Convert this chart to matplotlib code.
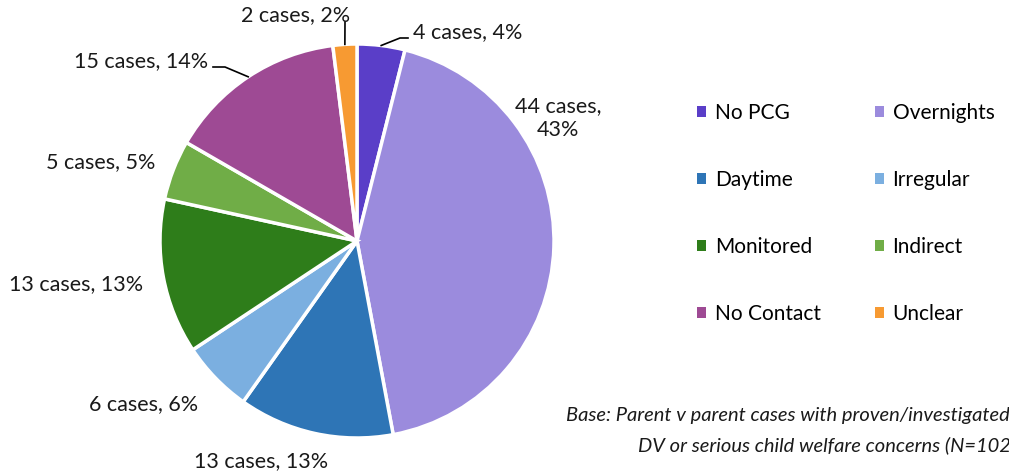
import matplotlib
matplotlib.use("Agg")
import numpy as np
import matplotlib.pyplot as plt
from matplotlib.patches import Patch

plt.rcParams['font.family'] = ['Lato', 'DejaVu Sans']

categories = ["No PCG", "Overnights", "Daytime", "Irregular",
              "Monitored", "Indirect", "No Contact", "Unclear"]
cases = [4, 44, 13, 6, 13, 5, 15, 2]
percents = [4, 43, 13, 6, 13, 5, 14, 2]
colors = ["#5A3EC8", "#9B8BDD", "#2E75B6", "#7BAFE0",
          "#2E7D1A", "#70AD47", "#9E4A94", "#F79A32"]

W, H = 1009, 475
fig = plt.figure(figsize=(W / 100, H / 100), dpi=100)

# pie axes, centre (357, 241) px, radius 197 px
cx, cy, r = 357, 241, 197
ax = fig.add_axes([(cx - r) / W, (H - cy - r) / H, 2 * r / W, 2 * r / H])
wedges, _ = ax.pie(cases, colors=colors, startangle=90, counterclock=False,
                   radius=1, wedgeprops=dict(edgecolor="white", linewidth=2.5))
ax.set_xlim(-1, 1)
ax.set_ylim(-1, 1)
ax.set_aspect("equal")
ax.axis("off")

# label text positions in pixels (x, y, ha)
label_pos = [(413, 32, "left"), (558, 118, "center"), (328, 461, "right"),
             (198, 404, "right"), (143, 284, "right"), (155, 162, "right"),
             (208, 61, "right"), (350, 15, "right")]
leaders = {0: [(408, 38), (400, 38)], 6: [(213, 67), (225, 67)], 7: [(345, 22)]}

total = sum(cases)
cum = np.cumsum([0] + cases)
for i, (n, p) in enumerate(zip(cases, percents)):
    x, y, ha = label_pos[i]
    txt = f"{n} cases, {p}%" if i != 1 else f"{n} cases,\n{p}%"
    fig.text(x / W, 1 - y / H, txt, ha=ha, va="center", fontsize=15.5,
             color="#1a1a1a", linespacing=1.3, multialignment="center")
    if i in leaders:
        mid = (cum[i] + n / 2) / total * 2 * np.pi
        ex, ey = cx + r * np.sin(mid), cy - r * np.cos(mid)
        pts = leaders[i] + [(ex, ey)]
        xs = [pt[0] / W for pt in pts]
        ys = [1 - pt[1] / H for pt in pts]
        fig.add_artist(plt.Line2D(xs, ys, color="black", linewidth=1.2,
                                  transform=fig.transFigure))

# legend filled row-wise
order = [0, 2, 4, 6, 1, 3, 5, 7]
handles = [Patch(facecolor=colors[i], edgecolor="none") for i in order]
labels = [categories[i] for i in order]
fig.legend(handles, labels, ncol=2, loc="upper left",
           bbox_to_anchor=(697 / W, 1 - 103 / H), frameon=False,
           borderpad=0, borderaxespad=0,
           fontsize=15, handlelength=0.45, handleheight=0.45,
           handletextpad=0.4, labelspacing=2.25, columnspacing=2.6)

# footnote runs past the right edge, as in the original
fig.text(566 / W, 1 - 416 / H,
         "Base: Parent v parent cases with proven/investigated",
         ha="left", va="center", fontsize=14.5, style="italic", color="#1a1a1a")
fig.text(638 / W, 1 - 445 / H,
         "DV or serious child welfare concerns (N=102)",
         ha="left", va="center", fontsize=14.5, style="italic", color="#1a1a1a")

fig.savefig("out.png", dpi=100)
